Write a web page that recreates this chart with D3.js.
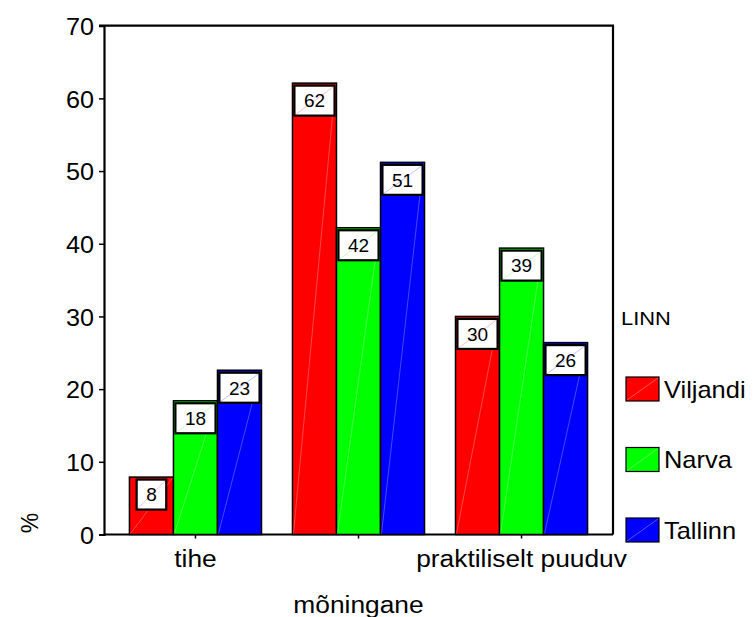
<!DOCTYPE html>
<html><head><meta charset="utf-8">
<script src="https://cdn.jsdelivr.net/npm/d3@7"></script>
<style>body{margin:0;background:#fff}svg{display:block}text{font-family:Arial,"Liberation Sans",sans-serif;fill:#000}</style>
</head><body>
<script>
const categories = ["tihe", "mõningane", "praktiliselt puuduv"];
const seriesNames = ["Viljandi", "Narva", "Tallinn"];
const viljandi = [7.9, 62.1, 30.0];
const narva = [18.4, 42.2, 39.4];
const tallinn = [22.6, 51.2, 26.4];
const yTicks = [0, 10, 20, 30, 40, 50, 60, 70];
const legendTitle = "LINN";
const xTitle = "mõningane";
const yTitle = "%";
const colors = ["#ff0000", "#00ff00", "#0000ff"];

const seriesValues = [viljandi, narva, tallinn];
const W = 754, H = 617;
const svg = d3.select("body").append("svg").attr("width", W).attr("height", H);

const x0 = d3.scaleBand().domain(categories).range([104, 613]).paddingInner(0.19).paddingOuter(0.156);
const x1 = d3.scaleBand().domain(seriesNames).range([0, x0.bandwidth()]).padding(0);
const y = d3.scaleLinear().domain([0, 70]).range([534.5, 25.7]);
const color = d3.scaleOrdinal().domain(seriesNames).range(colors);

function stretch(sel, k) {
  sel.each(function () {
    const L = this.getComputedTextLength();
    d3.select(this).attr("textLength", L * k).attr("lengthAdjust", "spacingAndGlyphs");
  });
}

// frame
svg.append("path")
  .attr("d", `M99,${y(70)}H613V${y(0)}`)
  .attr("fill", "none").attr("stroke", "#000").attr("stroke-width", 2.2);

// y axis
const ya = svg.append("g").attr("transform", "translate(104,0)")
  .call(d3.axisLeft(y).tickValues(yTicks).tickSize(5).tickPadding(5).tickFormat(d3.format("d")));
ya.attr("font-size", null).attr("font-family", null);
ya.select(".domain").attr("stroke-width", 2.2);
ya.selectAll(".tick line").attr("stroke-width", 1.5);
ya.selectAll(".tick text").attr("font-size", 24).attr("dy", "0.36em");
stretch(ya.selectAll(".tick text"), 1.05);

// x axis
const xa = svg.append("g").attr("transform", `translate(0,${y(0)})`)
  .call(d3.axisBottom(x0).tickSize(4).tickFormat(""));
xa.select(".domain").attr("stroke-width", 2.2).attr("d", `M104,0H613`);
xa.selectAll(".tick line").attr("stroke-width", 1.5);

const xl = svg.append("g");
xl.selectAll("text").data(categories).join("text")
  .attr("x", d => x0(d) + x0.bandwidth() / 2)
  .attr("y", (d, i) => i === 1 ? 613 : 567)
  .attr("text-anchor", "middle").attr("font-size", 23.5)
  .text(d => d);
stretch(xl.selectAll("text"), 1.12);

// y title
svg.append("text").attr("transform", "translate(38,523) rotate(-90)")
  .attr("text-anchor", "middle").attr("font-size", 23).text(yTitle);

// bars
const data = [];
categories.forEach((c, ci) => seriesNames.forEach((s, si) => data.push({ c, s, v: seriesValues[si][ci] })));

const bars = svg.append("g").selectAll("g").data(data).join("g");
bars.append("rect")
  .attr("x", d => x0(d.c) + x1(d.s))
  .attr("y", d => y(d.v))
  .attr("width", x1.bandwidth())
  .attr("height", d => y(0) - y(d.v))
  .attr("fill", d => color(d.s))
  .attr("stroke", "#000").attr("stroke-width", 1.5);
bars.append("line")
  .attr("x1", d => x0(d.c) + x1(d.s) + 1).attr("y1", y(0) - 1)
  .attr("x2", d => x0(d.c) + x1(d.s) + x1.bandwidth() - 1).attr("y2", d => y(d.v) + 1)
  .attr("stroke", "#fff").attr("stroke-opacity", 0.35).attr("stroke-width", 0.8);

// value labels
const lab = bars.append("g");
lab.each(function (d) {
  const g = d3.select(this);
  const cx = x0(d.c) + x1(d.s) + x1.bandwidth() / 2;
  const t = g.append("text").attr("x", cx).attr("y", y(d.v) + 22)
    .attr("text-anchor", "middle").attr("font-size", 19).text(Math.round(d.v));
  const L = t.node().getComputedTextLength();
  const bw = L + 19, bh = 30;
  const bx = cx - bw / 2, by = y(d.v) + 2.5;
  g.insert("rect", "text").attr("x", bx).attr("y", by).attr("width", bw).attr("height", bh)
    .attr("fill", "#fff").attr("stroke", "#000").attr("stroke-width", 2.2);
  g.insert("line", "text").attr("x1", bx + 1).attr("y1", by + bh - 1).attr("x2", bx + bw - 1).attr("y2", by + 1)
    .attr("stroke", color(d.s)).attr("stroke-opacity", 0.3).attr("stroke-width", 0.8);
  t.attr("y", by + bh / 2).attr("dy", "0.36em");
});

// legend
const lt = svg.append("text").attr("x", 621).attr("y", 325).attr("font-size", 19).text(legendTitle);
stretch(lt, 1.15);
const leg = svg.append("g").selectAll("g").data(seriesNames).join("g")
  .attr("transform", (d, i) => `translate(626,${377 + i * 70.5})`);
leg.append("rect").attr("width", 33).attr("height", 24)
  .attr("fill", d => color(d)).attr("stroke", "#000").attr("stroke-width", 1.2);
leg.append("line").attr("x1", 1).attr("y1", 23).attr("x2", 32).attr("y2", 1)
  .attr("stroke", "#fff").attr("stroke-opacity", 0.4).attr("stroke-width", 0.8);
const legText = leg.append("text").attr("x", 38).attr("y", 12).attr("dy", "0.36em")
  .attr("font-size", 24).text(d => d);
stretch(legText, 1.06);
</script>
</body></html>
